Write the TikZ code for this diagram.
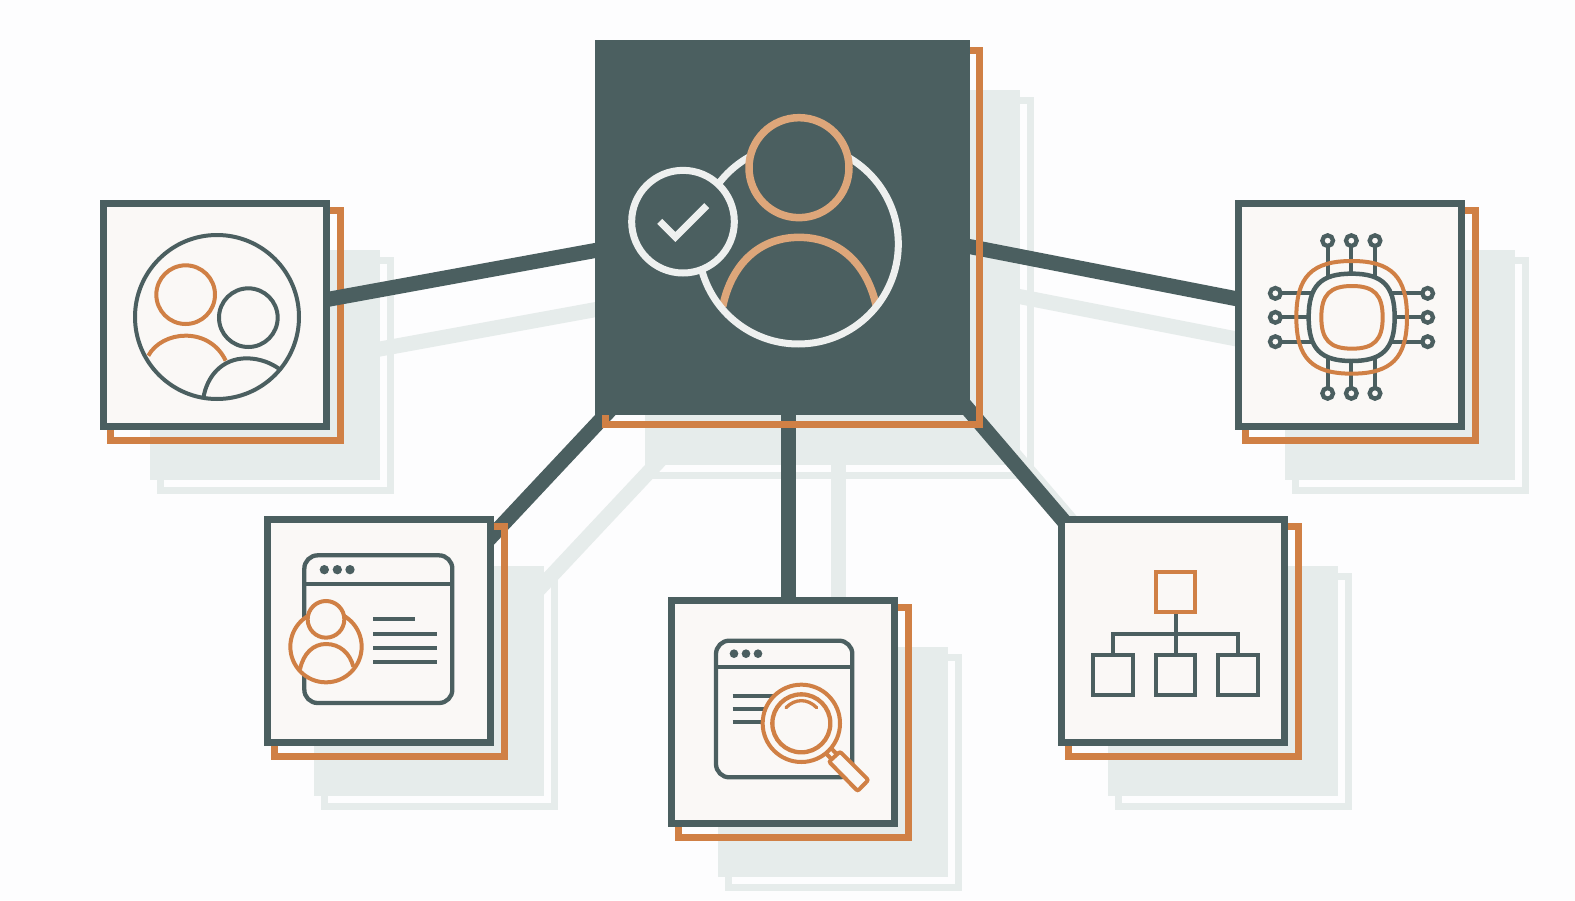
\documentclass[tikz,border=0pt]{standalone}
\usetikzlibrary{calc}
\definecolor{slate}{HTML}{4B5F60}
\definecolor{ochre}{HTML}{D08045}
\definecolor{paleochre}{HTML}{DDA67A}
\definecolor{mist}{HTML}{E6ECEB}
\definecolor{snow}{HTML}{EEF0EF}
\definecolor{paper}{HTML}{FAF8F6}
\definecolor{pagebg}{HTML}{FDFDFE}
\pgfdeclarelayer{shadowlayer}
\pgfdeclarelayer{shadowconn}
\pgfdeclarelayer{loworange}
\pgfdeclarelayer{connlayer}
\pgfdeclarelayer{highorange}
\pgfsetlayers{shadowlayer,shadowconn,loworange,connlayer,highorange,main}
\tikzset{
  box/.style={rectangle,inner sep=0pt,outer sep=0pt},
  cardbox/.style={box,draw=slate,fill=paper,line width=7pt,minimum size=223pt},
  ochrering/.style={box,draw=ochre,line width=7pt},
  shadowfill/.style={box,fill=mist},
  shadowring/.style={box,draw=mist,line width=7pt},
  link/.style={draw=slate,line width=15pt},
  shadowlink/.style={draw=mist,line width=15pt},
  zoomed/.style={x=0.33333pt,y=-0.33333pt},
  sl/.style={draw=slate,line width=#1},
  oc/.style={draw=ochre,line width=#1},
}
% name, centre x, centre y, shadow size
\newcommand\shadowsfor[4]{%
  \begin{pgfonlayer}{shadowlayer}
    \node[shadowfill,minimum size=#4pt] (s#1) at (#2+50,#3+50) {};
    \node[shadowring,minimum size=#4pt] (r#1) at (#2+60,#3+60) {};
  \end{pgfonlayer}}
% name, centre x, centre y, orange layer
\newcommand\cardat[4]{%
  \shadowsfor{#1}{#2}{#3}{230}%
  \begin{pgfonlayer}{#4}
    \node[ochrering,minimum size=230pt] (o#1) at (#2+10,#3+10) {};
  \end{pgfonlayer}
  \node[cardbox] (#1) at (#2,#3) {};}
% connector, drawn with its shadow: node A, offset, node B, offset
\newcommand\linkboth[4]{%
  \begin{pgfonlayer}{shadowconn}
    \draw[shadowlink] ($(s#1.center)+(#2)$) -- ($(s#3.center)+(#4)$);
  \end{pgfonlayer}
  \begin{pgfonlayer}{connlayer}
    \draw[link] ($(#1.center)+(#2)$) -- ($(#3.center)+(#4)$);
  \end{pgfonlayer}}
% squircle: cx, cy, half width, half height
\newcommand\squircle[4]{%
  (#1-#3,#2) .. controls (#1-#3,#2-0.72*#4) and (#1-0.72*#3,#2-#4) .. (#1,#2-#4)
  .. controls (#1+0.72*#3,#2-#4) and (#1+#3,#2-0.72*#4) .. (#1+#3,#2)
  .. controls (#1+#3,#2+0.72*#4) and (#1+0.72*#3,#2+#4) .. (#1,#2+#4)
  .. controls (#1-0.72*#3,#2+#4) and (#1-#3,#2+0.72*#4) .. (#1-#3,#2) -- cycle}
\begin{document}
\begin{tikzpicture}[x=1pt,y=-1pt]
\useasboundingbox (0,0) rectangle (1575,900);
\begin{pgfonlayer}{shadowlayer}
\fill[pagebg] (0,0) rectangle (1575,900);
\end{pgfonlayer}

% hub
\shadowsfor{hub}{782.5}{227.5}{375}
\begin{pgfonlayer}{highorange}
  \node[ochrering,minimum size=374.5pt] (ohub) at (792.5,237.5) {};
\end{pgfonlayer}
\node[box,fill=slate,minimum size=375pt] (hub) at (782.5,227.5) {};

% cards
\cardat{ca}{215}{315}{loworange}
\cardat{cb}{1350}{315}{highorange}
\cardat{cc}{379}{631}{highorange}
\cardat{cd}{783}{712}{highorange}
\cardat{ce}{1173}{631}{highorange}

% connectors
\linkboth{ca}{105,-14.2}{hub}{-177.5,21.2}
\linkboth{hub}{177.5,17.2}{cb}{-105,-14.6}
\linkboth{hub}{-172.5,182.5}{cc}{106,-87.7}
\linkboth{hub}{5.5,180}{cd}{5,-100}
\linkboth{hub}{181.9,177.4}{ce}{-105,-105}

% hub icon
\begin{scope}[shift={(590,30)},zoomed]
  \draw[draw=paleochre,line width=7.5pt] (398,830) .. controls (425,700) and (510,622) .. (627,622)
      .. controls (745,622) and (830,700) .. (858,825);
  \draw[draw=snow,line width=7pt] (625,642) circle [radius=300];
  \draw[draw=paleochre,fill=slate,line width=7.5pt] (627,413) circle [radius=150];
  \draw[draw=snow,fill=slate,line width=7pt] (279,575) circle [radius=154];
  \draw[draw=snow,line width=7pt] (209,574) -- (256,621) -- (350,527);
\end{scope}

% card a icon
\begin{scope}[shift={(90,190)},zoomed]
  \draw[oc=4pt] (175,497) .. controls (195,460) and (240,437) .. (287,437)
      .. controls (340,437) and (385,465) .. (407,512);
  \draw[sl=4pt] (340,625) .. controls (350,560) and (395,505) .. (470,505)
      .. controls (510,505) and (545,520) .. (568,537);
  \draw[sl=4pt] (381,381) circle [radius=246];
  \draw[oc=4pt] (287,314) circle [radius=88];
  \draw[sl=4pt] (475,383) circle [radius=88];
\end{scope}

% card b icon (chip)
\begin{scope}[shift={(1230,190)},zoomed]
  \foreach \p in {293,364,435}{
    \draw[sl=4pt] (\p,152) -- (\p,260);
    \draw[sl=4pt] (\p,610) -- (\p,505);
    \draw[draw=slate,fill=paper,line width=4.3pt] (\p,152) circle [radius=16];
    \draw[draw=slate,fill=paper,line width=4.3pt] (\p,610) circle [radius=16];
  }
  \foreach \p in {310,382,455}{
    \draw[sl=4pt] (136,\p) -- (245,\p);
    \draw[sl=4pt] (593,\p) -- (485,\p);
    \draw[draw=slate,fill=paper,line width=4.3pt] (136,\p) circle [radius=16];
    \draw[draw=slate,fill=paper,line width=4.3pt] (593,\p) circle [radius=16];
  }
  \draw[sl=4.5pt,fill=paper] \squircle{365}{382}{129}{131};
  \draw[oc=4pt] \squircle{365}{382}{166}{169};
  \draw[oc=4pt] \squircle{366}{382}{92}{94};
\end{scope}

% card c icon
\begin{scope}[shift={(260,510)},zoomed]
  \draw[sl=4.3pt,rounded corners=13.3pt] (133,136) rectangle (577,579);
  \draw[sl=4.3pt] (133,222) -- (577,222);
  \foreach \p in {193,232,270}{\fill[slate] (\p,179) circle [radius=14];}
  \draw[sl=4.3pt] (340,328) -- (465,328);
  \foreach \p in {371,414,457}{\draw[sl=4.3pt] (340,\p) -- (532,\p);}
  \draw[oc=4pt,fill=paper] (198,410) circle [radius=107];
  \draw[oc=4pt] (120,478) .. controls (130,430) and (160,402) .. (198,402)
      .. controls (240,402) and (270,430) .. (280,470);
  \draw[oc=4pt,fill=paper] (198,328) circle [radius=55];
\end{scope}

% card d icon
\begin{scope}[shift={(665,590)},zoomed]
  \draw[sl=4.3pt,rounded corners=13.3pt] (153,152) rectangle (562,562);
  \draw[sl=4.3pt] (153,231) -- (562,231);
  \foreach \p in {207,243,279}{\fill[slate] (\p,191) circle [radius=13];}
  \foreach \p in {317,356,396}{\draw[sl=4.3pt] (203,\p) -- (330,\p);}
  \draw[oc=4pt] (482,489) -- (497,505);
  \draw[oc=4pt] (497,473) -- (513,490);
  \draw[oc=4pt,fill=paper,rounded corners=2pt] (525,485) -- (610,570) -- (578,603) -- (492,515) -- cycle;
  \draw[oc=4pt,fill=paper] (409,400) circle [radius=116];
  \draw[oc=4.3pt] (409,400) circle [radius=87];
  \draw[oc=3.3pt,line cap=round] (363,353) .. controls (390,325) and (428,325) .. (455,353);
\end{scope}

% card e icon
\begin{scope}[shift={(1050,510)},zoomed]
  \draw[sl=4.3pt] (377,305) -- (377,435);
  \draw[sl=4.3pt] (188,435) -- (188,373) -- (565,373) -- (565,435);
  \draw[oc=4.3pt] (317,186) rectangle (436,305);
  \foreach \p in {129,317,505}{\draw[sl=4.3pt] (\p,435) rectangle (\p+119,554);}
\end{scope}
\end{tikzpicture}
\end{document}
